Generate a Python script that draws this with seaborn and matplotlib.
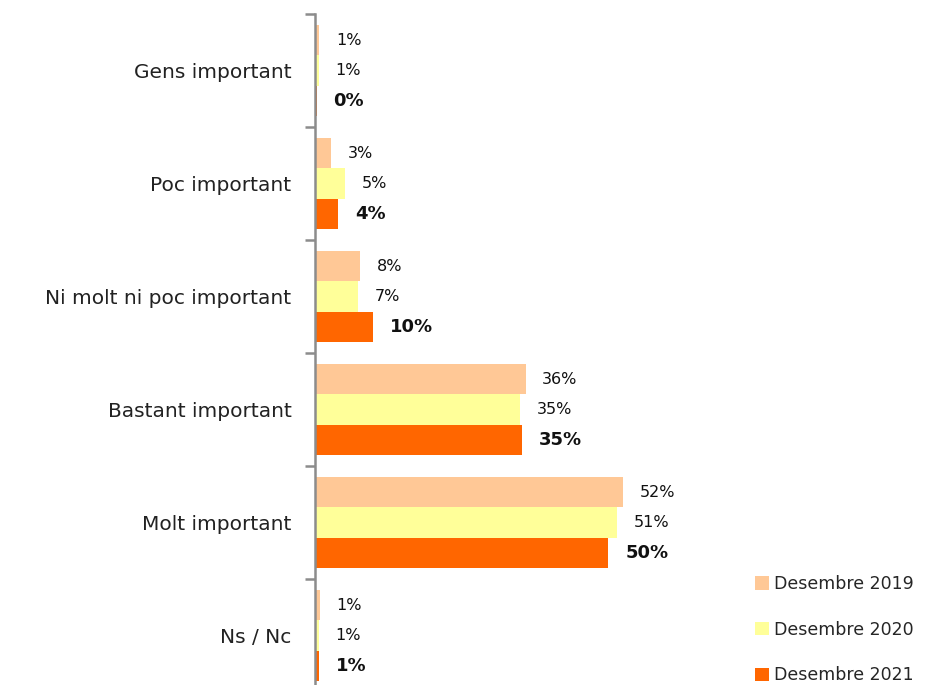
import numpy as np
import pandas as pd
import matplotlib
matplotlib.use("Agg")
import matplotlib.pyplot as plt
import seaborn as sns
from matplotlib.ticker import FixedLocator

# categories (top to bottom) and series values (% of answers)
categories = ["Gens important", "Poc important", "Ni molt ni poc important",
              "Bastant important", "Molt important", "Ns / Nc"]
series = ["Desembre 2019", "Desembre 2020", "Desembre 2021"]
pct_2019 = [0.7, 2.7, 7.6, 35.6, 52.0, 0.8]
pct_2020 = [0.6, 5.1, 7.3, 34.6, 51.0, 0.6]
pct_2021 = [0.3, 3.9, 9.8, 35.0, 49.6, 0.7]
colors = ["#FFC896", "#FFFF99", "#FF6600"]

df = pd.DataFrame({
    "cat": categories * 3,
    "serie": [s for s in series for _ in categories],
    "pct": pct_2019 + pct_2020 + pct_2021,
})

sns.set_style("white")
plt.rcParams["font.family"] = ["DejaVu Sans"]

fig = plt.figure(figsize=(9.31, 6.85), dpi=100)
W, H = 931, 685
ax = fig.add_axes([315 / W, -7 / H, 355 / W, 678 / H])

sns.barplot(data=df, x="pct", y="cat", hue="serie", orient="h",
            palette=colors, order=categories, hue_order=series,
            width=0.8, saturation=1, linewidth=0, ax=ax, legend=True)

ax.set_xlim(0, 60)
ax.set_ylim(5.5, -0.5)
ax.set_xlabel("")
ax.set_ylabel("")
ax.set_xticks([])

# value labels, the last series in bold
for i, cont in enumerate(ax.containers):
    bold = i == 2
    ax.bar_label(cont, labels=[f"{v:.0f}%" for v in cont.datavalues],
                 padding=12, fontsize=13 if bold else 11.5,
                 fontweight="bold" if bold else "normal", color="#111111")

# axis styling
for side in ["top", "right", "bottom"]:
    ax.spines[side].set_visible(False)
ax.spines["left"].set_color("#8c8c8c")
ax.spines["left"].set_linewidth(1.8)
ax.yaxis.set_minor_locator(FixedLocator(np.arange(-0.5, 6, 1)))
ax.tick_params(axis="y", which="major", length=0, pad=17, labelsize=14.5,
               labelcolor="#222222")
ax.tick_params(axis="y", which="minor", length=7, width=1.8, color="#8c8c8c",
               left=True)

handles, labels = ax.get_legend_handles_labels()
ax.legend(handles, labels, loc="upper left",
          bbox_to_anchor=(748 / W, 1 - 568 / H), bbox_transform=fig.transFigure,
          frameon=False, handlelength=0.8, handleheight=0.8, handletextpad=0.3,
          labelspacing=1.6, fontsize=12.5, borderaxespad=0)

fig.savefig("out.png", dpi=100)
